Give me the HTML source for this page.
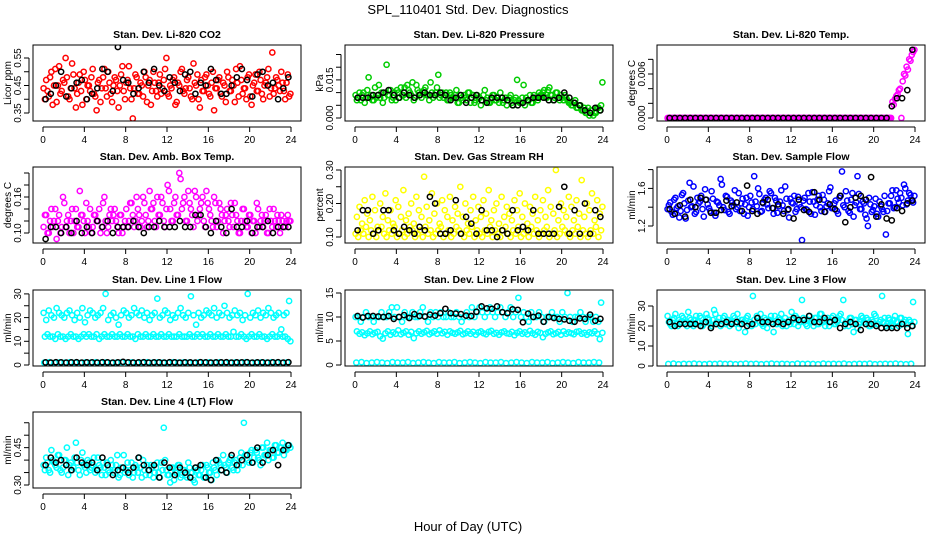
<!DOCTYPE html>
<html><head><meta charset="utf-8">
<style>
html,body{margin:0;padding:0;background:#fff;}
svg{display:block;font-family:"Liberation Sans",Arial,sans-serif;}
</style></head>
<body>
<svg id="chart" width="936" height="540" viewBox="0 0 936 540">
<text x="468" y="14" text-anchor="middle" font-size="13">SPL_110401  Std. Dev. Diagnostics</text>
<text x="468" y="531" text-anchor="middle" font-size="13">Hour of Day (UTC)</text>
</svg>
<script>
const hourTicks=[0,4,8,12,16,20,24];
const co2A=[.44,.47,.41,.50,.45,.39,.52,.43,.46,.48,.40,.53,.44,.42,.49,.38,.47,.45,.43,.51,.41,.46,.39,.48,.44,.50,.42,.45,.47,.37,.49,.43,.46,.52,.40,.44,.48,.42,.45,.50,.39,.47,.43,.46,.41,.49,.44,.51,.42,.45,.47,.38,.46,.50,.43,.44,.48,.41,.53,.45,.40,.47,.43,.49,.42,.46,.36,.44,.48,.41,.45,.50,.43,.47,.39,.46,.52,.42,.44,.48,.41,.45,.49,.43,.47,.40,.46,.51,.44,.42,.48,.45,.50,.43,.46,.41];
const co2B=[.40,.43,.48,.38,.51,.45,.42,.47,.55,.41,.44,.49,.37,.46,.43,.50,.40,.45,.48,.42,.36,.47,.44,.51,.41,.46,.39,.48,.43,.45,.52,.40,.47,.44,.33,.49,.42,.46,.41,.48,.45,.38,.50,.43,.46,.42,.47,.55,.41,.44,.48,.39,.45,.51,.42,.47,.44,.40,.46,.49,.37,.43,.48,.45,.41,.50,.44,.47,.42,.46,.39,.48,.43,.45,.51,.41,.47,.44,.40,.49,.38,.46,.43,.50,.42,.45,.48,.41,.57,.44,.47,.43,.46,.40,.49,.42];
const co2K=[.40,.42,.45,.50,.41,.44,.46,.47,.40,.42,.44,.51,.50,.43,.59,.47,.46,.42,.44,.50,.46,.51,.45,.43,.48,.46,.43,.49,.50,.42,.46,.45,.51,.47,.42,.42,.45,.48,.51,.47,.41,.49,.50,.45,.46,.40,.44,.48];
const presA=[.009,.008,.007,.010,.008,.016,.009,.007,.008,.013,.010,.008,.021,.009,.007,.010,.011,.008,.009,.012,.013,.010,.014,.008,.011,.009,.010,.012,.009,.014,.008,.010,.017,.009,.008,.010,.007,.009,.008,.011,.006,.008,.009,.007,.010,.008,.006,.009,.008,.007,.011,.008,.006,.009,.007,.008,.010,.006,.008,.007,.009,.005,.008,.007,.006,.013,.008,.007,.006,.009,.008,.010,.009,.011,.008,.012,.009,.008,.010,.007,.008,.009,.007,.006,.005,.007,.004,.005,.003,.002,.004,.003,.001,.002,.004,.005];
const presB=[.007,.010,.009,.006,.011,.008,.007,.012,.009,.008,.006,.010,.009,.011,.008,.007,.010,.012,.009,.008,.011,.009,.007,.013,.010,.008,.011,.009,.007,.010,.009,.012,.008,.010,.009,.007,.010,.008,.009,.006,.009,.007,.008,.010,.006,.009,.007,.008,.005,.009,.007,.006,.008,.009,.007,.006,.008,.007,.005,.008,.006,.007,.015,.006,.008,.005,.007,.009,.006,.008,.007,.009,.010,.008,.011,.009,.007,.010,.008,.009,.007,.008,.006,.005,.006,.004,.005,.003,.004,.002,.001,.003,.002,.004,.003,.014];
const presK=[.008,.008,.008,.009,.009,.010,.011,.009,.008,.010,.009,.008,.009,.010,.009,.009,.010,.009,.007,.008,.009,.006,.008,.009,.007,.006,.008,.008,.008,.007,.005,.005,.006,.007,.008,.008,.008,.007,.007,.008,.010,.008,.006,.005,.003,.002,.004,.003];
const tempA=[0,0,0,0,0,0,0,0,0,0,0,0,0,0,0,0,0,0,0,0,0,0,0,0,0,0,0,0,0,0,0,0,0,0,0,0,0,0,0,0,0,0,0,0,0,0,0,0,0,0,0,0,0,0,0,0,0,0,0,0,0,0,0,0,0,0,0,0,0,0,0,0,0,0,0,0,0,0,0,0,0,0,0,0,0,0,0,.0022,.0026,.0032,.0040,.0050,.0058,.0066,.0078,.0090];
const tempB=[0,0,0,0,0,0,0,0,0,0,0,0,0,0,0,0,0,0,0,0,0,0,0,0,0,0,0,0,0,0,0,0,0,0,0,0,0,0,0,0,0,0,0,0,0,0,0,0,0,0,0,0,0,0,0,0,0,0,0,0,0,0,0,0,0,0,0,0,0,0,0,0,0,0,0,0,0,0,0,0,0,0,0,0,0,0,0,.0018,.0030,.0038,0,.0060,.0070,.0080,.0086,.0093];
const tempK=[0,0,0,0,0,0,0,0,0,0,0,0,0,0,0,0,0,0,0,0,0,0,0,0,0,0,0,0,0,0,0,0,0,0,0,0,0,0,0,0,0,0,0,.0016,.0027,.0027,.0038,.0093];
const ambA=[.11,.13,.10,.14,.12,.09,.13,.11,.15,.12,.10,.14,.12,.11,.17,.13,.10,.12,.14,.11,.13,.12,.10,.15,.12,.11,.14,.13,.12,.10,.13,.11,.14,.12,.15,.11,.16,.13,.12,.15,.11,.17,.14,.12,.16,.13,.15,.11,.18,.14,.12,.16,.13,.19,.15,.12,.17,.14,.11,.16,.13,.15,.12,.17,.14,.12,.16,.11,.15,.13,.12,.14,.11,.13,.15,.12,.10,.14,.12,.11,.13,.12,.10,.14,.12,.11,.13,.10,.12,.14,.11,.12,.13,.11,.12,.12];
const ambB=[.13,.10,.12,.11,.14,.12,.10,.16,.11,.13,.12,.10,.14,.11,.13,.12,.15,.11,.10,.13,.12,.14,.11,.16,.10,.13,.12,.14,.11,.13,.10,.12,.11,.15,.13,.12,.14,.11,.16,.13,.12,.14,.15,.11,.13,.16,.12,.14,.17,.12,.15,.13,.20,.14,.16,.12,.15,.13,.17,.12,.14,.16,.11,.15,.13,.11,.15,.12,.14,.10,.13,.12,.15,.11,.13,.10,.12,.14,.11,.13,.10,.12,.15,.11,.13,.12,.10,.14,.11,.12,.13,.10,.12,.11,.13,.12];
const ambK=[.09,.11,.11,.10,.11,.10,.12,.10,.11,.10,.12,.11,.12,.10,.11,.11,.11,.12,.11,.10,.11,.11,.12,.11,.11,.11,.12,.11,.11,.13,.13,.11,.10,.12,.11,.10,.14,.11,.11,.12,.10,.11,.11,.12,.10,.11,.11,.11];
const rhA=[.11,.10,.12,.11,.13,.10,.12,.11,.10,.12,.13,.11,.10,.12,.11,.13,.10,.11,.12,.10,.11,.13,.12,.10,.11,.12,.10,.13,.11,.12,.10,.11,.12,.13,.10,.11,.12,.10,.11,.13,.12,.11,.10,.12,.11,.13,.10,.12,.11,.10,.12,.11,.13,.10,.12,.11,.10,.12,.13,.11,.10,.12,.11,.13,.10,.11,.12,.10,.13,.11,.12,.10,.11,.12,.13,.10,.11,.12,.10,.11,.13,.12,.11,.10,.12,.11,.13,.10,.12,.11,.10,.12,.11,.13,.10,.12];
const rhB=[.16,.19,.14,.21,.17,.15,.22,.18,.13,.20,.16,.23,.15,.18,.14,.21,.19,.16,.24,.15,.17,.20,.14,.22,.18,.16,.28,.19,.15,.23,.17,.20,.14,.21,.18,.16,.22,.15,.19,.17,.25,.16,.20,.14,.18,.22,.15,.19,.16,.21,.17,.24,.15,.18,.20,.14,.22,.16,.19,.17,.15,.21,.18,.23,.16,.20,.14,.19,.17,.22,.15,.18,.21,.16,.24,.19,.17,.30,.15,.20,.18,.16,.22,.19,.15,.21,.17,.27,.16,.20,.18,.23,.15,.21,.17,.19];
const rhK=[.12,.18,.18,.11,.12,.18,.18,.12,.11,.13,.12,.11,.13,.12,.22,.20,.11,.11,.12,.21,.11,.16,.14,.11,.18,.12,.12,.10,.12,.11,.18,.12,.13,.12,.18,.11,.11,.11,.11,.19,.25,.11,.18,.11,.20,.11,.18,.16];
const flowA=[1.38,1.45,1.32,1.50,1.41,1.36,1.55,1.28,1.47,1.40,1.62,1.35,1.44,1.52,1.30,1.48,1.39,1.57,1.34,1.46,1.42,1.64,1.37,1.51,1.33,1.45,1.58,1.40,1.36,1.49,1.43,1.31,1.52,1.38,1.46,1.60,1.35,1.44,1.50,1.39,1.55,1.33,1.47,1.41,1.58,1.36,1.49,1.29,1.45,1.52,1.38,1.43,1.05,1.50,1.37,1.46,1.56,1.32,1.48,1.40,1.53,1.35,1.44,1.61,1.39,1.47,1.33,1.52,1.42,1.57,1.36,1.48,1.30,1.45,1.54,1.38,1.44,1.28,1.50,1.35,1.41,1.33,1.46,1.38,1.52,1.36,1.44,1.58,1.40,1.49,1.55,1.42,1.60,1.47,1.53,1.45];
const flowB=[1.42,1.35,1.48,1.39,1.29,1.53,1.44,1.37,1.66,1.41,1.33,1.50,1.46,1.38,1.59,1.43,1.36,1.49,1.31,1.45,1.70,1.40,1.52,1.35,1.47,1.42,1.38,1.55,1.44,1.33,1.50,1.40,1.45,1.73,1.41,1.54,1.36,1.48,1.43,1.57,1.39,1.50,1.34,1.46,1.42,1.62,1.37,1.49,1.44,1.35,1.51,1.40,1.47,1.38,1.55,1.33,1.46,1.42,1.52,1.36,1.48,1.41,1.57,1.39,1.44,1.36,1.50,1.78,1.40,1.47,1.34,1.55,1.42,1.73,1.38,1.46,1.32,1.20,1.43,1.37,1.49,1.30,1.41,1.35,1.11,1.44,1.52,1.39,1.58,1.45,1.50,1.64,1.43,1.55,1.48,1.52];
const flowK=[1.38,1.33,1.42,1.30,1.48,1.40,1.50,1.48,1.34,1.34,1.37,1.47,1.41,1.45,1.36,1.63,1.36,1.33,1.45,1.48,1.39,1.43,1.33,1.38,1.28,1.48,1.37,1.35,1.56,1.48,1.35,1.43,1.38,1.52,1.24,1.40,1.50,1.52,1.48,1.72,1.30,1.43,1.28,1.26,1.39,1.36,1.44,1.47];
const l1A=[22,19,23,21,20,24,22,21,20,22,23,21,19,22,20,24,18,21,23,22,20,21,22,24,30,19,21,22,20,17,21,23,22,20,21,24,22,21,23,20,22,19,21,22,28,20,21,23,22,19,21,20,22,24,21,20,22,29,21,17,22,20,21,23,22,21,24,20,22,21,25,22,20,21,23,21,22,19,21,30,20,22,21,23,20,22,21,24,22,20,21,22,15,21,22,27];
const l1B=[12,13,12,12,11,13,12,12,11,12,13,12,12,11,12,13,12,13,12,12,13,11,12,13,12,12,13,12,12,13,12,12,13,12,12,11,13,12,12,13,12,12,13,12,12,13,12,12,13,12,12,12,13,12,12,12,13,12,12,13,12,13,12,12,13,12,12,13,12,12,13,12,12,14,12,12,13,12,11,12,13,12,12,13,12,12,11,12,13,12,12,13,12,12,11,10];
const l1C=[1.0,1.2,0.9,1.1,1.0,1.2,1.0,0.9,1.1,1.0,1.2,1.0,1.1,0.9,1.0,1.2,1.0,1.1,0.9,1.0,1.2,1.0,1.1,1.0,0.9,1.2,1.0,1.1,1.0,0.9,1.2,1.0,1.1,1.0,1.2,0.9,1.0,1.1,1.0,1.2,0.9,1.0,1.1,1.0,1.2,1.0,0.9,1.1];
const l1K=[1.1,1.0,1.2,1.1,1.0,1.1,1.2,1.0,1.1,1.1,1.0,1.2,1.1,1.0,1.1,1.3,1.1,1.0,1.1,1.2,1.0,1.1,1.1,1.0,1.2,1.1,1.0,1.1,1.1,1.0,1.2,1.1,1.0,1.1,1.1,1.2,1.0,1.1,1.1,1.2,1.0,1.1,1.1,1.0,1.1,1.2,1.0,1.2];
const l2A=[10,10,9,10,11,10,10,9,10,10,11,10,10,11,12,10,12,10,9,11,10,10,11,10,10,11,12,10,9,11,10,11,10,11,10,10,11,10,10,11,10,9,10,11,10,12,10,11,12,11,10,11,12,11,10,11,12,11,10,11,12,10,11,14,10,11,10,9,11,10,10,11,10,9,10,10,11,10,10,9,11,10,15,10,9,10,10,11,10,9,10,10,9,10,9,13];
const l2B=[7,6.5,6.8,6.2,6.6,7,6.4,6.7,6.9,6,5.5,6.6,7,6.3,6.8,6.5,7.2,6.4,6.7,7.0,6.3,6.9,5.6,6.6,7,6.5,6.8,7.1,6.4,6.7,7,6.5,7.2,6.6,6.9,6.3,7,6.7,6.5,6.8,7.1,6.4,6.6,7,6.5,6.9,6.3,6.8,7,6.6,6.4,6.9,7.1,6.5,6.7,6.3,6.8,7,6.6,6.5,6.9,6.2,6.7,7,6.5,6.8,6.4,7.1,6.6,6.3,6.9,6.7,5.8,6.5,6.8,7,6.4,6.6,6.9,6.3,7,6.5,6.8,6.6,6.4,6.9,7,6.5,6.7,6.3,6.8,6.6,7,6.5,5.4,6.7];
const l2C=[0.5,0.6,0.4,0.5,0.6,0.5,0.4,0.6,0.5,0.5,0.6,0.4,0.5,0.6,0.5,0.4,0.6,0.5,0.5,0.6,0.4,0.5,0.6,0.5,0.4,0.6,0.5,0.5,0.6,0.4,0.5,0.6,0.5,0.4,0.6,0.5,0.5,0.6,0.4,0.5,0.6,0.5,0.4,0.6,0.5,0.5,0.6,0.5];
const l2K=[10.2,9.9,10.2,10.2,10.1,10.0,10.2,9.6,10.0,10.4,9.8,10.6,10.2,10.1,10.5,10.3,10.8,11.7,10.8,10.7,10.6,10.3,10.2,11.1,12.2,11.8,11.7,12.2,11.0,10.8,11.6,11.5,8.9,10.7,10.0,10.3,9.0,10.0,9.8,9.6,9.5,9.2,9.0,9.7,9.6,10.5,9.2,9.6];
const l3A=[25,21,23,26,20,22,24,21,27,23,20,25,22,24,21,26,23,20,28,22,24,21,25,23,20,22,24,26,21,23,17,25,22,35,21,24,26,20,23,22,25,17,21,24,26,22,20,23,27,21,24,22,33,23,20,25,22,24,21,26,23,20,24,22,25,21,23,26,33,22,20,24,17,23,21,25,22,24,20,23,26,21,22,35,24,21,23,20,25,22,24,21,23,16,22,32];
const l3B=[22,20,24,21,23,25,22,20,24,21,23,22,25,20,22,24,21,23,26,22,20,24,21,23,22,25,21,19,23,22,24,21,20,23,25,22,21,24,19,23,22,25,21,23,20,24,22,21,23,25,20,22,24,21,23,22,20,24,21,26,22,23,20,24,21,22,25,23,20,22,24,21,23,19,22,24,21,23,20,22,25,21,23,22,20,24,21,23,22,20,24,22,21,23,20,22];
const l3C=[1.0,1.2,0.9,1.1,1.0,1.2,1.0,0.9,1.1,1.0,1.2,1.0,1.1,0.9,1.0,1.2,1.0,1.1,0.9,1.0,1.2,1.0,1.1,1.0,0.9,1.2,1.0,1.1,1.0,0.9,1.2,1.0,1.1,1.0,1.2,0.9,1.0,1.1,1.0,1.2,0.9,1.0,1.1,1.0,1.2,1.0,0.9,1.1];
const l3K=[22,20,21,21,21,21,20,22,19,21,21,22,21,22,21,20,21,24,22,22,21,22,21,22,24,23,23,25,22,22,24,22,23,19,21,22,21,18,21,21,20,19,19,19,19,21,19,20];
const l4A=[.38,.41,.36,.44,.39,.37,.42,.35,.40,.45,.38,.36,.41,.39,.34,.43,.37,.40,.36,.38,.35,.41,.37,.39,.34,.36,.40,.35,.38,.33,.37,.42,.36,.34,.39,.35,.37,.41,.33,.36,.38,.34,.37,.35,.39,.33,.36,.40,.34,.31,.37,.35,.38,.33,.36,.34,.39,.35,.32,.37,.34,.36,.33,.38,.35,.32,.37,.34,.39,.36,.38,.35,.40,.37,.39,.36,.41,.38,.42,.40,.43,.39,.44,.41,.38,.45,.42,.40,.44,.41,.46,.43,.45,.42,.44,.46];
const l4B=[.36,.39,.35,.40,.38,.42,.36,.37,.40,.34,.39,.37,.47,.36,.40,.38,.35,.39,.37,.41,.36,.38,.34,.37,.39,.35,.38,.36,.42,.34,.37,.35,.39,.36,.33,.38,.35,.37,.40,.34,.36,.38,.33,.37,.35,.39,.53,.36,.34,.37,.32,.35,.38,.34,.36,.33,.37,.35,.31,.36,.34,.38,.33,.37,.35,.39,.36,.40,.38,.42,.37,.39,.41,.36,.40,.38,.43,.55,.42,.39,.44,.41,.43,.40,.45,.42,.47,.44,.41,.46,.43,.45,.47,.44,.46,.45];
const l4K=[.38,.41,.39,.40,.38,.36,.41,.39,.38,.39,.36,.41,.38,.34,.36,.37,.35,.37,.41,.38,.36,.38,.33,.39,.37,.34,.37,.35,.33,.37,.38,.33,.32,.40,.36,.35,.42,.38,.40,.42,.39,.45,.39,.42,.44,.38,.44,.46];

const co2Ticks=[0.35,0.40,0.45,0.50,0.55], co2Labels=["0.35","","0.45","","0.55"];
const presTicks=[0,0.005,0.010,0.015,0.020,0.025], presLabels=["0.000","","","0.015","",""];
const tempTicks=[0,0.002,0.004,0.006,0.008], tempLabels=["0.000","","","0.006",""];
const ambTicks=[0.10,0.12,0.14,0.16,0.18,0.20], ambLabels=["0.10","","","0.16","",""];
const rhTicks=[0.10,0.15,0.20,0.25,0.30], rhLabels=["0.10","","0.20","","0.30"];
const flowTicks=[1.2,1.4,1.6,1.8], flowLabels=["1.2","","1.6",""];
const l1Ticks=[0,5,10,15,20,25,30], l1Labels=["0","","10","","20","","30"];
const l2Ticks=[0,5,10,15], l2Labels=["0","5","10","15"];
const l3Ticks=[0,10,20,30], l3Labels=["0","10","20","30"];
const l4Ticks=[0.30,0.35,0.40,0.45,0.50,0.55], l4Labels=["0.30","","","0.45","",""];

const NS="http://www.w3.org/2000/svg";
const svg=document.getElementById('chart');
function mk(tag,attrs,parent){const e=document.createElementNS(NS,tag);for(const k in attrs)e.setAttribute(k,attrs[k]);(parent||svg).appendChild(e);return e;}
const colX=[33,345,657], rowY=[45,167,290,412], BW=268, BH=76;

const panels=[
 {id:'co2',title:'Stan. Dev. Li-820 CO2',ylab:'Licor ppm',c:0,r:0,v0:0.35,p0:113,k:275,color:'#ff0000',series:[co2A,co2B],black:co2K,ticks:co2Ticks,labels:co2Labels},
 {id:'pressure',title:'Stan. Dev. Li-820 Pressure',ylab:'kPa',c:1,r:0,v0:0,p0:118,k:2540,color:'#00cc00',series:[presA,presB],black:presK,ticks:presTicks,labels:presLabels},
 {id:'temp',title:'Stan. Dev. Li-820 Temp.',ylab:'degrees C',c:2,r:0,v0:0,p0:118,k:7333,color:'#ff00ff',series:[tempA,tempB],black:tempK,ticks:tempTicks,labels:tempLabels},
 {id:'amb-temp',title:'Stan. Dev. Amb. Box Temp.',ylab:'degrees C',c:0,r:1,v0:0.10,p0:233,k:600,color:'#ff00ff',series:[ambA,ambB],black:ambK,ticks:ambTicks,labels:ambLabels},
 {id:'rh',title:'Stan. Dev. Gas Stream RH',ylab:'percent',c:1,r:1,v0:0.10,p0:237,k:335,color:'#ffff00',series:[rhA,rhB],black:rhK,ticks:rhTicks,labels:rhLabels},
 {id:'sample-flow',title:'Stan. Dev. Sample Flow',ylab:'ml/min',c:2,r:1,v0:1.2,p0:226,k:94,color:'#0000ff',series:[flowA,flowB],black:flowK,ticks:flowTicks,labels:flowLabels},
 {id:'line1',title:'Stan. Dev. Line 1 Flow',ylab:'ml/min',c:0,r:2,v0:0,p0:365,k:2.37,color:'#00ffff',series:[l1A,l1B,l1C],black:l1K,ticks:l1Ticks,labels:l1Labels},
 {id:'line2',title:'Stan. Dev. Line 2 Flow',ylab:'ml/min',c:1,r:2,v0:0,p0:365,k:4.8,color:'#00ffff',series:[l2A,l2B,l2C],black:l2K,ticks:l2Ticks,labels:l2Labels},
 {id:'line3',title:'Stan. Dev. Line 3 Flow',ylab:'ml/min',c:2,r:2,v0:0,p0:366,k:2.0,color:'#00ffff',series:[l3A,l3B,l3C],black:l3K,ticks:l3Ticks,labels:l3Labels},
 {id:'line4',title:'Stan. Dev. Line 4 (LT) Flow',ylab:'ml/min',c:0,r:3,v0:0.30,p0:485,k:249,color:'#00ffff',series:[l4A,l4B],black:l4K,ticks:l4Ticks,labels:l4Labels}
];

const defs=mk('defs',{});
panels.forEach(p=>{
  const bx=colX[p.c], by=rowY[p.r];
  const xs=h=>bx+10+h*(248/24);
  const ys=v=>p.p0-(v-p.v0)*p.k;
  const g=mk('g',{});
  
  
  const cp=mk('clipPath',{id:'clip-'+p.id},defs);
  mk('rect',{x:bx,y:by,width:BW,height:BH},cp);
  const t=mk('text',{x:bx+BW/2,y:by-7,'text-anchor':'middle','font-size':'10.5','font-weight':'bold'},g);
  t.textContent=p.title;
  
  
  const yl=mk('text',{x:0,y:0,'text-anchor':'middle','font-size':'10',transform:`translate(${bx-22},${by+BH/2}) rotate(-90)`},g);
  yl.textContent=p.ylab;
  
  
  const pg=mk('g',{'clip-path':`url(#clip-${p.id})`,fill:'none','stroke-width':'1.5'},g);
  p.series.forEach((arr,si)=>{
    arr.forEach((v,i)=>{
      const h=(i+(si%2?0.75:0.25))*24/arr.length;
      const c=mk('circle',{cx:xs(h).toFixed(1),cy:ys(v).toFixed(1),r:2.6,stroke:p.color},pg);
      
      
    });
  });
  p.black.forEach((v,i)=>{
    const h=(i+0.5)*24/p.black.length;
    const c=mk('circle',{cx:xs(h).toFixed(1),cy:ys(v).toFixed(1),r:2.6,stroke:'#000'},pg);
    
    
  });
  const box=mk('rect',{x:bx,y:by,width:BW,height:BH,fill:'none',stroke:'#000','stroke-width':'1'},g);
  
  
  const xa=mk('g',{},g);
  
  
  mk('line',{x1:xs(0),x2:xs(24),y1:by+BH+6,y2:by+BH+6,stroke:'#000'},xa);
  hourTicks.forEach(h=>{
    mk('line',{x1:xs(h),x2:xs(h),y1:by+BH+6,y2:by+BH+11,stroke:'#000'},xa);
    const tl=mk('text',{x:xs(h),y:by+BH+22,'text-anchor':'middle','font-size':'10'},xa);
    tl.textContent=h;
  });
  const ya=mk('g',{},g);
  
  
  const y0=ys(p.ticks[0]), y1=ys(p.ticks[p.ticks.length-1]);
  mk('line',{x1:bx-4,x2:bx-4,y1:y0,y2:y1,stroke:'#000'},ya);
  p.ticks.forEach((v,i)=>{
    mk('line',{x1:bx-9,x2:bx-4,y1:ys(v),y2:ys(v),stroke:'#000'},ya);
    if(p.labels[i]){
      const tl=mk('text',{x:0,y:0,'text-anchor':'middle','font-size':'10',transform:`translate(${bx-12},${ys(v)}) rotate(-90)`},ya);
      tl.textContent=p.labels[i];
    }
  });
});
</script>
</body></html>
